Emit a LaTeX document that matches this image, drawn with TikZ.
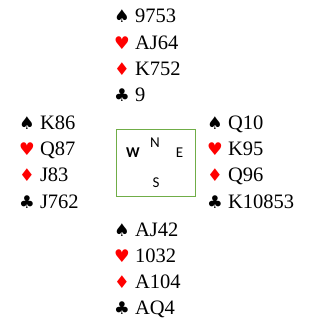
\documentclass[tikz,border=0pt]{standalone}
\usepackage{fontspec}
\setmainfont{Liberation Serif}
\newfontfamily\suitfont{DejaVu Sans}
\newfontfamily\compfont{Carlito}
\definecolor{suitred}{RGB}{255,0,0}
\definecolor{boxgreen}{RGB}{112,173,71}
\tikzset{
  handline/.style={anchor=base west, inner sep=0pt, font=\fontsize{20.5}{22}\selectfont},
  compass/.style={anchor=base, inner sep=0pt, font=\compfont\fontsize{15}{17}\selectfont},
}
\newcommand{\sS}{{\suitfont\fontsize{17.5}{18}\selectfont ♠}}
\newcommand{\sH}{{\suitfont\fontsize{17.5}{18}\selectfont\color{suitred}♥}}
\newcommand{\sD}{{\suitfont\fontsize{17.5}{18}\selectfont\color{suitred}♦}}
\newcommand{\sC}{{\suitfont\fontsize{17.5}{18}\selectfont ♣}}
\begin{document}
\begin{tikzpicture}[x=1pt,y=-1pt]
\useasboundingbox (0,0) rectangle (310,336);
% North
\node[handline] (n1) at (114,23) {\sS\ 9753};
\node[handline] (n2) at (114,49.3) {\sH\ AJ64};
\node[handline] (n3) at (114,75.6) {\sD\ K752};
\node[handline] (n4) at (114,102) {\sC\ 9};
% West
\node[handline] (w1) at (19,130) {\sS\ K86};
\node[handline] (w2) at (19,156) {\sH\ Q87};
\node[handline] (w3) at (19,182) {\sD\ J83};
\node[handline] (w4) at (19,208) {\sC\ J762};
% East
\node[handline] (e1) at (207,130) {\sS\ Q10};
\node[handline] (e2) at (207,156) {\sH\ K95};
\node[handline] (e3) at (207,182) {\sD\ Q96};
\node[handline] (e4) at (207,208) {\sC\ K10853};
% South
\node[handline] (s1) at (114,236) {\sS\ AJ42};
\node[handline] (s2) at (114,262) {\sH\ 1032};
\node[handline] (s3) at (114,288) {\sD\ A104};
\node[handline] (s4) at (114,314) {\sC\ AQ4};
% Compass box
\draw[boxgreen, line width=1pt] (116,130) rectangle (195,196);
\node[compass] (cn) at (155,148) {N};
\node[compass, font=\compfont\bfseries\fontsize{15}{17}\selectfont] (cw) at (133,158) {W};
\node[compass] (ce) at (179.5,158) {E};
\node[compass] (cs) at (156,187.5) {S};
\end{tikzpicture}
\end{document}
